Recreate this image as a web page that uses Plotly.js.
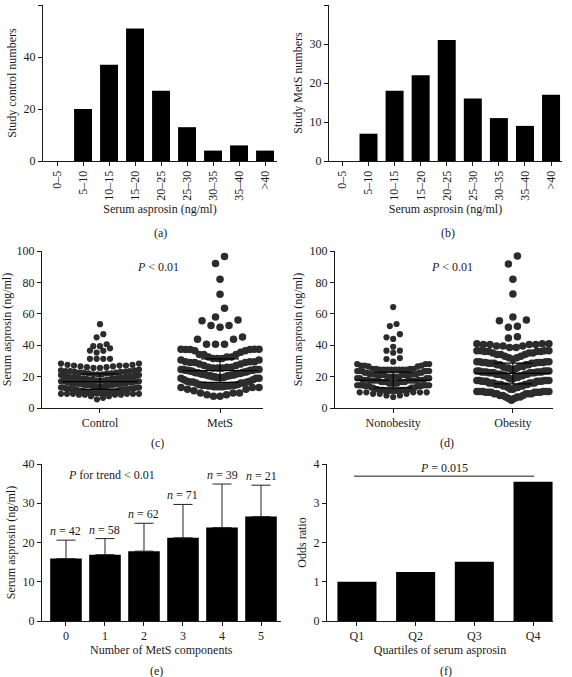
<!DOCTYPE html>
<html><head><meta charset="utf-8">
<script src="https://cdn.plot.ly/plotly-3.0.1.min.js"></script>
<style>html,body{margin:0;padding:0;background:#fff}#chart{width:572px;height:677px}</style>
</head><body><div id="chart"></div>
<script>
// ---------- (a), (b) histograms ----------
const histBins = ['0–5','5–10','10–15','15–20','20–25','25–30','30–35','35–40','>40'];
const controlCounts = [0,20,37,51,27,13,4,6,4];
const metsCounts = [0,7,18,22,31,16,11,9,17];

// ---------- (c) dot plot: value level -> number of subjects ----------
const ctrlLevel = [5.5,6.5,7.5,8.5,9,9.5, 10,10.5,11,11.5,12,12.5,13,13.5,14,14.5,
  15,15.5,16,16.5,17,17.5,18,18.5,19,19.5, 20,20.5,21,21.5,22,22.5,23,23.5,24,24.5,
  25.5,26,26.5,27,27.5,28.3, 31.3,35.3,36.4,36.6,38,39.4,40.6,45,47,53.4];
const ctrlCount = [1,1,2,4,6,6, 3,3,3,3,4,4,4,4,4,5,
  4,5,5,5,6,5,5,6,5,5, 3,3,3,3,3,3,3,3,2,1,
  2,2,2,3,2,2, 4,1,1,1,1,2,1,1,1,1];
const metsLevel = [7.5,8.5,9.5, 11,12,13,13.5,14,14.5,
  15,16,16.5,17,18,19,19.5,19.9, 20.5,21,21.5,22,22.5,23,23.5,24,24.5,
  25.5,26,27,28,29,29.5, 30.5,31.5,32.5,34, 35.5,36.5,37.2,37.4,
  40.6,43.8,45.3,51.5,52.5,55.5,56,58,63.5,72.5,82,92,96.5];
const metsCount = [2,2,3, 1,2,3,4,4,4,
  2,3,3,2,2,3,4,3, 4,3,3,3,3,3,3,4,5,
  3,3,2,2,3,3, 2,3,3,3, 1,2,3,3,
  3,2,1,1,2,1,1,1,1,1,1,1,1];
const groupsC = ['Control','MetS'];
const meanC = [16.8, 23.8];
const sdC = [4.9, 7.5];

// ---------- (d) dot plot ----------
const nonobLevel = [7,8,9,10,11,11.5, 12,13,14,14.5, 15.5,16.5,17.5,18, 19,20,21,21.5,
  22.5,23.5,24.5,25, 26.5,27,28,29.5, 31.2,31.8,35.2,36.5,39,44,45,47,52.2,53.5,64.3];
const nonobCount = [1,2,3,5,8,7, 3,5,6,8, 4,6,8,6, 4,6,8,6,
  4,6,8,4, 2,3,3,1, 1,1,1,2,1,1,1,1,1,1,1];
const obLevel = [5,6,7,8,9,10,10.5, 12,13,14,15,16,17,17.5, 18.5,19.5,20.5,21.5,22.5,23,23.5,
  24.5,25.5,26.5,27.5,28.5,29,29.5, 31,32,33,34,35,36,36.5, 38.5,39.5,40.5,41,
  44.6,45.4,51.5,52,55.6,56,58,72.6,82,91.7,96.8];
const obCount = [1,2,3,3,5,6,6, 2,3,4,5,6,6,5, 2,3,4,5,6,6,5,
  2,3,3,4,5,5,4, 1,2,2,3,3,4,4, 2,3,4,3,
  1,1,1,1,1,1,1,1,1,1,1];
const groupsD = ['Nonobesity','Obesity'];
const meanD = [17.8, 22.0];
const sdD = [5.0, 6.6];

// ---------- (e) MetS components ----------
const compCats = ['0','1','2','3','4','5'];
const compMean = [15.9,16.9,17.8,21.2,23.8,26.6];
const compSD = [4.7,4.1,7.1,8.5,11.1,8.0];
const compN = [42,58,62,71,39,21];

// ---------- (f) quartiles ----------
const quartiles = ['Q1','Q2','Q3','Q4'];
const oddsRatio = [1.0,1.25,1.51,3.55];

// ================= layout helpers =================
const W = 572, H = 677;
const F = 'Liberation Serif, Times New Roman, serif';
const FS = 12;
const INK = '#1a1a1a';
const px = v => v / W;
const py = v => 1 - v / H;

function xax(d0, d1, range, extra) {
  return Object.assign({
    type: 'category',
    domain: [px(d0), px(d1)], range: range, showline: true, linecolor: INK, linewidth: 1,
    ticks: 'outside', ticklen: 4, tickcolor: INK, tickwidth: 1, showgrid: false, zeroline: false,
    tickfont: {family: F, size: FS, color: INK}, fixedrange: true, automargin: false
  }, extra || {});
}
function yax(t0, t1, range, dtick, title, anchor) {
  return {
    domain: [py(t1), py(t0)], range: range, dtick: dtick, tick0: 0, showline: true, linecolor: INK,
    linewidth: 1, ticks: 'outside', ticklen: 4, tickcolor: INK, showgrid: false, zeroline: false,
    tickfont: {family: F, size: FS, color: INK}, fixedrange: true, automargin: false, anchor: anchor,
    title: {text: title, font: {family: F, size: FS, color: INK}, standoff: 4}
  };
}
function xtitle(t, sd) { return {text: t, font: {family: F, size: FS, color: INK}, standoff: sd}; }

// beeswarm (column scatter) placement: rows of height h (data units), points spread horizontally
function swarm(levels, counts, cat, h, spPx, maxW, pxPerCat) {
  const vals = [];
  levels.forEach((v, i) => { for (let k = 0; k < counts[i]; k++) vals.push(v); });
  vals.sort((a, b) => a - b);
  const xs = [], ys = [];
  let i = 0;
  while (i < vals.length) {
    const start = vals[i], row = [];
    while (i < vals.length && vals[i] < start + h) { row.push(vals[i]); i++; }
    const n = row.length;
    const s = n > 1 ? Math.min(spPx, maxW / (n - 1)) : 0;
    const pos = [];
    for (let j = 0; j < n; j++) pos.push((j - (n - 1) / 2) * s);
    pos.sort((a, b) => Math.abs(a) - Math.abs(b) || a - b);
    row.forEach((v, j) => { xs.push(cat + pos[j] / pxPerCat); ys.push(v); });
  }
  return {x: xs, y: ys};
}

// axis geometry (pixels)
const geo = {
  a: {x0: 43, x1: 277, r: [-0.54, 8.46], t0: 5, t1: 161},
  b: {x0: 329, x1: 562, r: [-0.515, 8.42], t0: 5, t1: 161},
  c: {x0: 42, x1: 263, r: [-0.483, 1.358], t0: 251, t1: 408},
  d: {x0: 335, x1: 553, r: [-0.486, 1.335], t0: 251, t1: 408},
  e: {x0: 42, x1: 280.5, r: [-0.615, 5.5], t0: 464, t1: 621},
  f: {x0: 327, x1: 553, r: [-0.51, 3.34], t0: 464, t1: 621}
};
const ppc = g => (g.x1 - g.x0) / (g.r[1] - g.r[0]);

const DOT = '#2c2c2c';
const traces = [];

// (a) & (b)
traces.push({type: 'bar', x: histBins, y: controlCounts, width: 0.69, marker: {color: '#000'},
  xaxis: 'x', yaxis: 'y', hoverinfo: 'skip'});
traces.push({type: 'bar', x: histBins, y: metsCounts, width: 0.69, marker: {color: '#000'},
  xaxis: 'x2', yaxis: 'y2', hoverinfo: 'skip'});

// (c) & (d) swarms
function addSwarm(levels, counts, cat, h, sp, maxW, size, g, xa, ya) {
  const s = swarm(levels, counts, cat, h, sp, maxW, ppc(g));
  traces.push({type: 'scatter', mode: 'markers', x: s.x, y: s.y, xaxis: xa, yaxis: ya,
    marker: {size: size, color: DOT, line: {width: 0}}, hoverinfo: 'skip', cliponaxis: false});
}
addSwarm(ctrlLevel, ctrlCount, 0, 3.6, 6.7, 78, 6.2, geo.c, 'x3', 'y3');
addSwarm(metsLevel, metsCount, 1, 6.0, 9.0, 78, 7.5, geo.c, 'x3', 'y3');
addSwarm(nonobLevel, nonobCount, 0, 3.6, 6.7, 72, 6.2, geo.d, 'x4', 'y4');
addSwarm(obLevel, obCount, 1, 6.0, 9.0, 72, 7.5, geo.d, 'x4', 'y4');

function addMeanSD(means, sds, g, xa, ya) {
  const hw = 38 / ppc(g);
  const lx = [], ly = [];
  means.forEach((m, i) => { lx.push(i - hw, i + hw, null); ly.push(m, m, null); });
  traces.push({type: 'scatter', mode: 'lines', x: lx, y: ly, xaxis: xa, yaxis: ya,
    line: {color: '#000', width: 1.2}, hoverinfo: 'skip'});
  traces.push({type: 'scatter', mode: 'markers', x: means.map((m, i) => i), y: means,
    xaxis: xa, yaxis: ya, marker: {size: 1, color: '#000'}, hoverinfo: 'skip',
    error_y: {type: 'data', array: sds, visible: true, width: 19, thickness: 1.2, color: '#000'}});
}
addMeanSD(meanC, sdC, geo.c, 'x3', 'y3');
addMeanSD(meanD, sdD, geo.d, 'x4', 'y4');

// (e)
traces.push({type: 'bar', x: compCats, y: compMean, width: 0.81, marker: {color: '#000'},
  xaxis: 'x5', yaxis: 'y5', hoverinfo: 'skip',
  error_y: {type: 'data', symmetric: false, array: compSD, arrayminus: compSD.map(() => 0),
    visible: true, width: 9.5, thickness: 1, color: '#222'}});
// (f)
traces.push({type: 'bar', x: quartiles, y: oddsRatio, width: 0.665, marker: {color: '#000'},
  xaxis: 'x6', yaxis: 'y6', hoverinfo: 'skip'});

const txt = () => ({family: F, size: FS, color: INK});
const annotations = [
  {xref: 'paper', yref: 'paper', x: px(160), y: py(233), text: '(a)'},
  {xref: 'paper', yref: 'paper', x: px(448), y: py(233), text: '(b)'},
  {xref: 'paper', yref: 'paper', x: px(157), y: py(443), text: '(c)'},
  {xref: 'paper', yref: 'paper', x: px(447), y: py(443), text: '(d)'},
  {xref: 'paper', yref: 'paper', x: px(156), y: py(671), text: '(e)'},
  {xref: 'paper', yref: 'paper', x: px(446), y: py(671), text: '(f)'},
  {xref: 'paper', yref: 'paper', x: px(158), y: py(267), text: '<i>P</i> &lt; 0.01'},
  {xref: 'paper', yref: 'paper', x: px(452), y: py(267), text: '<i>P</i> &lt; 0.01'},
  {xref: 'paper', yref: 'paper', x: px(111), y: py(475), text: '<i>P</i> for trend &lt; 0.01'},
  {xref: 'paper', yref: 'paper', x: px(444), y: py(468), text: '<i>P</i> = 0.015'}
].map(a => Object.assign(a, {showarrow: false, font: txt(), xanchor: 'center', yanchor: 'middle'}));
compN.forEach((n, i) => annotations.push({xref: 'x5', yref: 'y5', x: compCats[i], y: compMean[i] + compSD[i],
  text: '<i>n</i> = ' + n, showarrow: false, font: txt(), xanchor: 'center', yanchor: 'bottom', yshift: 0}));

const shapes = [{type: 'line', xref: 'x6', yref: 'y6', x0: -0.05, x1: 3.02, y0: 3.69, y1: 3.69,
  line: {color: INK, width: 1}}];

const layout = {
  width: W, height: H, margin: {l: 0, r: 0, t: 0, b: 0}, showlegend: false,
  paper_bgcolor: '#fff', plot_bgcolor: '#fff', font: {family: F, size: FS, color: INK},
  xaxis: xax(geo.a.x0, geo.a.x1, geo.a.r, {anchor: 'y', tickangle: -90, title: xtitle('Serum asprosin (ng/ml)', 4)}),
  yaxis: yax(geo.a.t0, geo.a.t1, [0, 60], 20, 'Study control numbers', 'x'),
  xaxis2: xax(geo.b.x0, geo.b.x1, geo.b.r, {anchor: 'y2', tickangle: -90, title: xtitle('Serum asprosin (ng/ml)', 4)}),
  yaxis2: yax(geo.b.t0, geo.b.t1, [0, 40], 10, 'Study MetS numbers', 'x2'),
  xaxis3: xax(geo.c.x0, geo.c.x1, geo.c.r, {type: 'linear', anchor: 'y3', tickmode: 'array', tickvals: [0, 1], ticktext: groupsC}),
  yaxis3: yax(geo.c.t0, geo.c.t1, [0, 100], 20, 'Serum asprosin (ng/ml)', 'x3'),
  xaxis4: xax(geo.d.x0, geo.d.x1, geo.d.r, {type: 'linear', anchor: 'y4', tickmode: 'array', tickvals: [0, 1], ticktext: groupsD}),
  yaxis4: yax(geo.d.t0, geo.d.t1, [0, 100], 20, 'Serum asprosin (ng/ml)', 'x4'),
  xaxis5: xax(geo.e.x0, geo.e.x1, geo.e.r, {anchor: 'y5', title: xtitle('Number of MetS components', 0)}),
  yaxis5: yax(geo.e.t0, geo.e.t1, [0, 40], 10, 'Serum asprosin (ng/ml)', 'x5'),
  xaxis6: xax(geo.f.x0, geo.f.x1, geo.f.r, {anchor: 'y6', title: xtitle('Quartiles of serum asprosin', 0)}),
  yaxis6: yax(geo.f.t0, geo.f.t1, [0, 4], 1, 'Odds ratio', 'x6'),
  annotations: annotations, shapes: shapes
};

Plotly.newPlot('chart', traces, layout, {staticPlot: true, displayModeBar: false});
</script></body></html>
